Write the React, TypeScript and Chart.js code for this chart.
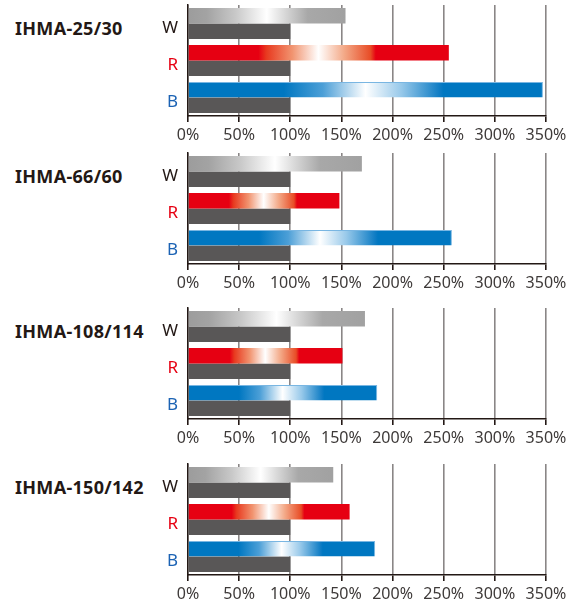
import React, { useEffect, useRef } from "react";
import { Chart, registerables } from "chart.js";

Chart.register(...registerables);

// ---- data ----
const panelTitles = ["IHMA-25/30", "IHMA-66/60", "IHMA-108/114", "IHMA-150/142"];
const seriesLabels = ["W", "R", "B"];
const values25_30 = [154, 255, 347];
const values66_60 = [170, 148, 258];
const values108_114 = [173, 151, 185];
const values150_142 = [142, 158, 183];
const referenceValues = [100, 100, 100];
const xMin = 0;
const xMax = 350;
const xStep = 50;

const panelValues = [values25_30, values66_60, values108_114, values150_142];

// ---- styles ----
const labelColors = ["#231815", "#e60012", "#1c63b4"];
const gradientStops: [number, string][][] = [
  [
    [0, "#9c9c9c"],
    [0.12, "#a3a3a3"],
    [0.3, "#c8c8c8"],
    [0.5, "#ffffff"],
    [0.62, "#d6d6d6"],
    [0.76, "#a8a8a8"],
    [1, "#a1a1a1"],
  ],
  [
    [0, "#e60012"],
    [0.27, "#e60012"],
    [0.3, "#e8391f"],
    [0.4, "#f19470"],
    [0.5, "#ffffff"],
    [0.6, "#f3a886"],
    [0.7, "#e84c26"],
    [0.72, "#e60012"],
    [1, "#e60012"],
  ],
  [
    [0, "#0077c1"],
    [0.27, "#0077c1"],
    [0.38, "#4c9fd7"],
    [0.5, "#ffffff"],
    [0.6, "#98c9ea"],
    [0.71, "#0e7cc4"],
    [0.72, "#0077c1"],
    [1, "#0077c1"],
  ],
];
const solidColors = ["#a1a1a1", "#e60012", "#0077c1"];
const refColor = "#595757";
const FONT = '"Noto Sans", "Open Sans", sans-serif';

const panelTops = [4, 152, 307, 463];

function Panel({ title, values, top }: { title: string; values: number[]; top: number }) {
  const ref = useRef<HTMLCanvasElement | null>(null);
  useEffect(() => {
    if (!ref.current) return;
    const chart = new Chart(ref.current, {
      type: "bar",
      data: {
        labels: seriesLabels,
        datasets: [
          {
            data: values,
            backgroundColor: (ctx: any) => {
              const i = ctx.dataIndex ?? 0;
              if (ctx.type !== "data") return solidColors[i];
              const c = ctx.chart;
              const sx = c.scales?.x;
              if (!c.chartArea || !sx) return solidColors[i];
              const x0 = sx.getPixelForValue(0);
              const x1 = sx.getPixelForValue(values[i]);
              const g = c.ctx.createLinearGradient(x0, 0, x1, 0);
              for (const [o, col] of gradientStops[i]) g.addColorStop(o, col);
              return g;
            },
            borderWidth: (ctx: any) =>
              ctx.dataIndex === 2 ? { top: 1, right: 1, bottom: 0, left: 0 } : 0,
            borderColor: "#79b6e2",
            borderSkipped: false,
            barPercentage: 1,
            categoryPercentage: 0.84,
          },
          {
            data: referenceValues,
            backgroundColor: refColor,
            borderWidth: 0,
            barPercentage: 1,
            categoryPercentage: 0.84,
          },
        ],
      },
      options: {
        indexAxis: "y",
        responsive: false,
        animation: false,
        devicePixelRatio: 1,
        layout: { padding: { left: 0, right: 28, top: 5, bottom: 0 } },
        plugins: {
          legend: { display: false },
          tooltip: { enabled: false },
          title: { display: false },
        },
        scales: {
          x: {
            type: "linear",
            min: xMin,
            max: xMax,
            ticks: {
              stepSize: xStep,
              callback: (v: any) => `${v}%`,
              color: "#3e3a39",
              font: { family: FONT, size: 16 },
              padding: 4,
              maxRotation: 0,
              autoSkip: false,
            },
            grid: {
              color: "#8a8686",
              lineWidth: 1.6,
              tickColor: "#231815",
              tickLength: 6,
              drawTicks: true,
            },
            border: { display: true, color: "#231815", width: 1.5 },
            afterFit: (s: any) => {
              s.height = 30;
              s.paddingLeft = 0;
              s.paddingRight = 0;
            },
          },
          y: {
            type: "category",
            ticks: {
              color: labelColors,
              font: { family: FONT, size: 17 },
              padding: 10,
              labelOffset: 5,
            },
            grid: { display: false, drawTicks: false },
            border: { display: true, color: "#231815", width: 1.5 },
            afterFit: (s: any) => {
              s.width = 188;
              s.paddingTop = 0;
              s.paddingBottom = 0;
            },
          },
        },
      } as any,
    });
    return () => chart.destroy();
  }, []);

  return (
    <>
      <div
        style={{
          position: "absolute",
          left: 15,
          top: top + 12,
          font: `bold 18px ${FONT}`,
          lineHeight: "24px",
          letterSpacing: "0.3px",
          color: "#231815",
          whiteSpace: "nowrap",
        }}
      >
        {title}
      </div>
      <canvas
        ref={ref}
        width={574}
        height={146}
        style={{ position: "absolute", left: 0, top: top - 4, width: 574, height: 146 }}
      />
    </>
  );
}

export default function App() {
  return (
    <div
      style={{
        position: "absolute",
        left: 0,
        top: 0,
        width: 574,
        height: 606,
        background: "#ffffff",
        overflow: "hidden",
      }}
    >
      {panelTitles.map((t, i) => (
        <Panel key={t} title={t} values={panelValues[i]} top={panelTops[i]} />
      ))}
    </div>
  );
}
